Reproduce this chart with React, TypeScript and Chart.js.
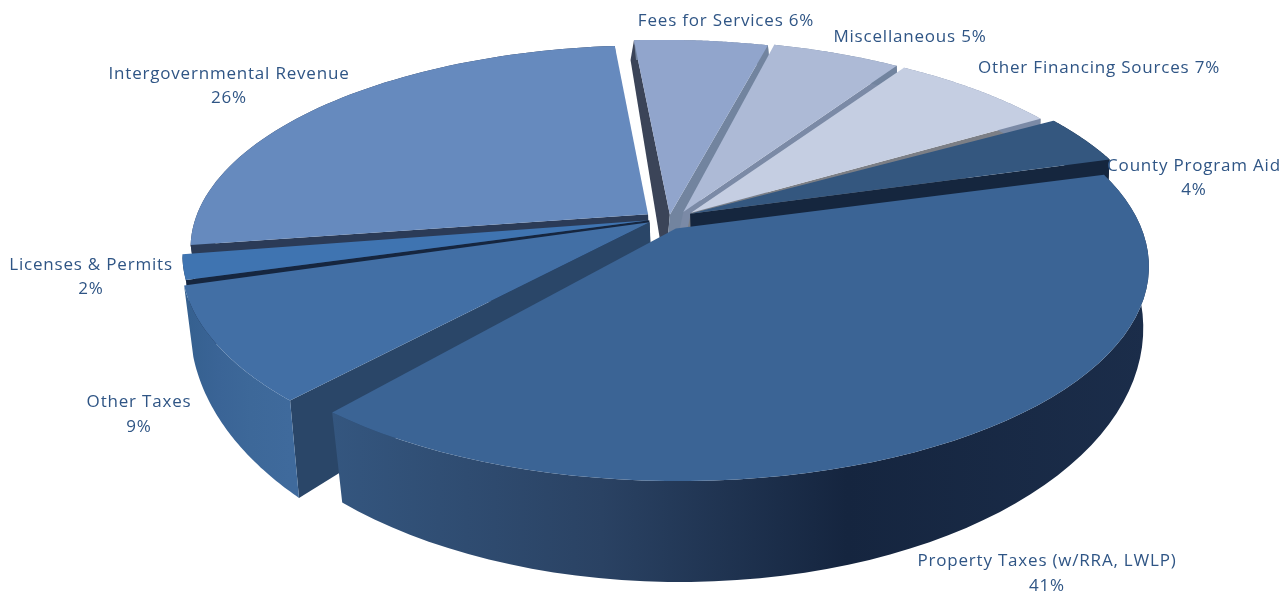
import React, { useEffect, useRef } from "react";
import { Chart, registerables } from "chart.js";

Chart.register(...registerables);

// ---- data ----
const categories = [
  "Property Taxes (w/RRA, LWLP)",
  "Other Taxes",
  "Licenses & Permits",
  "Intergovernmental Revenue",
  "Fees for Services",
  "Miscellaneous",
  "Other Financing Sources",
  "County Program Aid",
];
const shares = [41, 9, 2, 26, 6, 5, 7, 4];

// ---- styles ----
const topColors = ["#3b6495", "#426fa5", "#3f74b1", "#668abe", "#91a5cc", "#adbad6", "#c5cee2", "#34577f"];
const explodePx = [16, 9, 8, 11, 6, 11, 13, 19];
const reachU = [1, 0.995, 0.995, 0.98, 1, 1, 1, 1];
const reachV = [1.03, 1.05, 1, 0.99, 1.03, 1.02, 1.01, 1];
const baseReachV = [1.03, 1.09, 1, 0.99, 1.03, 1.02, 1.01, 1];
const trimStartDeg = [0.4, 1, -0.5, 0, 1, -0.9, 0, -0.2];
const trimEndDeg = [1.4, 0.5, 0.7, 0, 1, 0, 0.3, 0.7];
const apexDriftX = [0, 0, 0, 0, 0.015, 0.03, 0.03, 0];
const faceBaseDriftX = [0, 0, 0, 0, -0.012, 0, 0, 0];
const startFace = ["", "#2a4668", "#16263f", "#2b3b57", "#3b4458", "", "", ""];
const endFace = ["", "", "", "", "#72849f", "#7b8aa6", "#7c7f86", "#15263e"];
const wallStops: string[][] = [
  ["#34567f", "#2a4263", "#15253f", "#1b2d4a"],
  ["#35608f", "#3a6496", "#3d6899", "#3f6a9c"],
  ["#1b2f4b", "#1b2f4b", "#1b2f4b", "#1b2f4b"],
  ["#2b3b57", "#2b3b57", "#2b3b57", "#2b3b57"],
  ["#72849f", "#72849f", "#72849f", "#72849f"],
  ["#72849f", "#72849f", "#72849f", "#72849f"],
  ["#7b8aa6", "#7b8aa6", "#7b8aa6", "#7b8aa6"],
  ["#15263e", "#15263e", "#15263e", "#15263e"],
];
const paintOrder = [3, 2, 1, 4, 5, 6, 7, 0];
const labelLayout: { lines: string[]; x: number; y: number[] }[] = [
  { lines: ["Property Taxes (w/RRA, LWLP)", "41%"], x: 1047, y: [561, 586] },
  { lines: ["Other Taxes", "9%"], x: 139, y: [402, 427] },
  { lines: ["Licenses & Permits", "2%"], x: 91, y: [265, 289] },
  { lines: ["Intergovernmental Revenue", "26%"], x: 229, y: [74, 98] },
  { lines: ["Fees for Services 6%"], x: 726, y: [21] },
  { lines: ["Miscellaneous 5%"], x: 910, y: [37] },
  { lines: ["Other Financing Sources 7%"], x: 1099, y: [68] },
  { lines: ["County Program Aid", "4%"], x: 1194, y: [166, 190] },
];

const TOP = { x0: 662, y0: 219, a: 462, b: 200, k: 0.165 };
const BOT = { x0: 664, y0: 275, a: 456, b: 238, k: 0.153 };
const project = (c: typeof TOP, u: number, v: number) => {
  const w = 1 - c.k * v;
  return [c.x0 + (c.a * u) / w, c.y0 + (c.b * v) / w];
};

const pieFaces = {
  id: "pieFaces",
  beforeDatasetsDraw(chart: any) {
    const ctx: CanvasRenderingContext2D = chart.ctx;
    const arcs = chart.getDatasetMeta(0).data;
    for (const i of paintOrder) {
      const arc = arcs[i];
      const e = arc.options.offset / arc.outerRadius;
      const mid = (arc.startAngle + arc.endAngle) / 2;
      const ax = e * Math.cos(mid);
      const ay = e * Math.sin(mid);
      const s = arc.startAngle + (trimStartDeg[i] * Math.PI) / 180;
      const end = arc.endAngle - (trimEndDeg[i] * Math.PI) / 180;
      const N = 60;
      const rim = (c: typeof TOP, rv: number) => {
        const out: number[][] = [];
        for (let n = 0; n <= N; n++) {
          const a = s + ((end - s) * n) / N;
          out.push(project(c, ax + reachU[i] * Math.cos(a), ay + rv * Math.sin(a)));
        }
        return out;
      };
      const topRim = rim(TOP, reachV[i]);
      const botRim = rim(BOT, baseReachV[i]);
      const apexT = project(TOP, ax + apexDriftX[i], ay);
      const apexB = project(BOT, ax, ay);
      const poly = (pts: number[][], fill: any) => {
        ctx.beginPath();
        pts.forEach((p, n) => (n ? ctx.lineTo(p[0], p[1]) : ctx.moveTo(p[0], p[1])));
        ctx.closePath();
        ctx.fillStyle = fill;
        ctx.fill();
      };
      const xs = topRim.map((p) => p[0]);
      const g = ctx.createLinearGradient(Math.min(...xs), 0, Math.max(...xs), 0);
      const stops = wallStops[i];
      [0, 0.33, 0.63, 1].forEach((t, n) => g.addColorStop(t, stops[n]));
      if (startFace[i]) {
        const b0 = [botRim[0][0] + faceBaseDriftX[i] * BOT.a, botRim[0][1]];
        poly([apexT, topRim[0], b0, apexB], startFace[i]);
      }
      if (endFace[i]) poly([apexT, topRim[N], botRim[N], apexB], endFace[i]);
      poly([...topRim, ...botRim.slice().reverse()], g);
      poly([apexT, ...topRim], arc.options.backgroundColor);
    }
    return false;
  },
  afterDraw(chart: any) {
    const ctx: any = chart.ctx;
    ctx.save();
    ctx.fillStyle = "#2f5585";
    ctx.textAlign = "center";
    ctx.textBaseline = "middle";
    ctx.font = "17px 'Open Sans'";
    ctx.letterSpacing = "0.8px";
    labelLayout.forEach((l) => l.lines.forEach((t, n) => ctx.fillText(t, l.x, l.y[n])));
    ctx.restore();
  },
};

export default function App() {
  const ref = useRef<HTMLCanvasElement>(null);
  useEffect(() => {
    const chart = new Chart(ref.current!, {
      type: "pie",
      data: {
        labels: categories,
        datasets: [{ data: shares, backgroundColor: topColors, offset: explodePx, borderWidth: 0 }],
      },
      options: {
        animation: false,
        responsive: false,
        devicePixelRatio: 1,
        rotation: 74,
        layout: { padding: 0 },
        plugins: { legend: { display: false }, tooltip: { enabled: false } },
      },
      plugins: [pieFaces],
    } as any);
    return () => chart.destroy();
  }, []);
  return (
    <div style={{ position: "absolute", left: 0, top: 0, width: 1279, height: 591, background: "#fff", overflow: "hidden" }}>
      <canvas ref={ref} width={1279} height={591} style={{ display: "block", filter: "blur(0.5px)" }} />
    </div>
  );
}
